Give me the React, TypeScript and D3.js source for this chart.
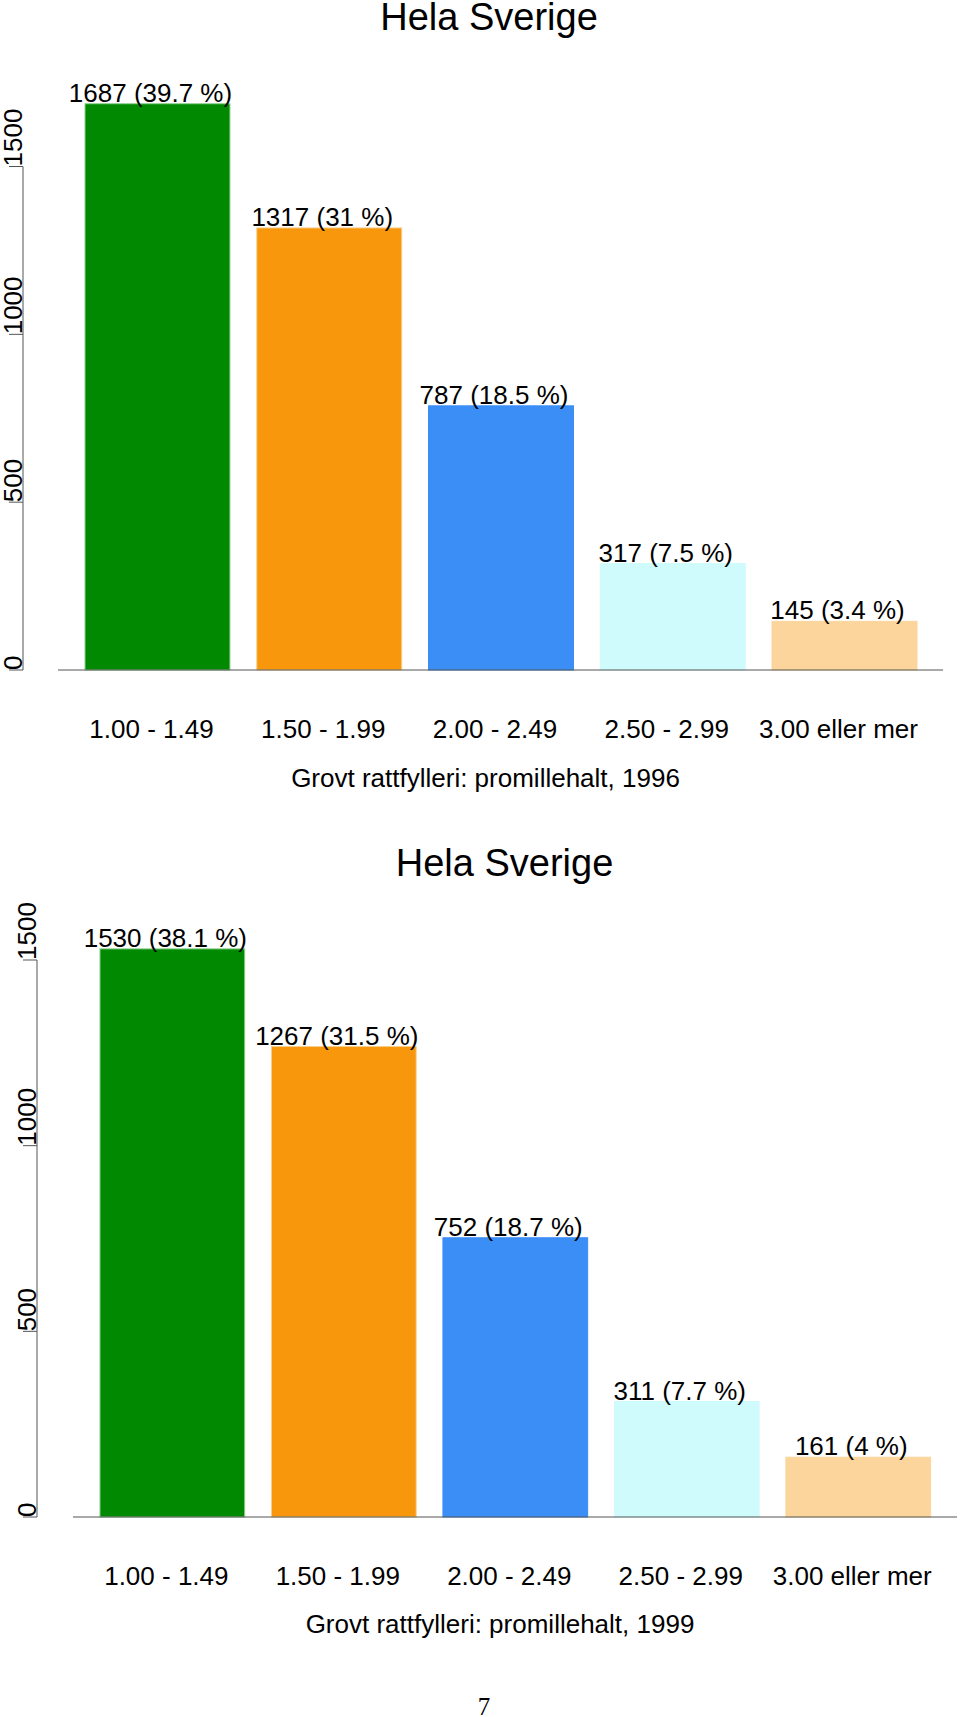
import React from "react";
import * as d3 from "d3";

const categories = ["1.00 - 1.49", "1.50 - 1.99", "2.00 - 2.49", "2.50 - 2.99", "3.00 eller mer"];
const values1996 = [1687, 1317, 787, 317, 145];
const pct1996 = ["39.7", "31", "18.5", "7.5", "3.4"];
const values1999 = [1530, 1267, 752, 311, 161];
const pct1999 = ["38.1", "31.5", "18.7", "7.7", "4"];
const yTicks = [0, 500, 1000, 1500];
const barColors = ["#018a01", "#f8970b", "#3b8ef5", "#cffbfc", "#fbd59c"];
const barEdges = ["#8fd08f", "#f6cf90", "#3b8ef5", "#cffbfc", "#fbd59c"];
const titles = ["Hela Sverige", "Hela Sverige"];
const xTitles = ["Grovt rattfylleri: promillehalt, 1996", "Grovt rattfylleri: promillehalt, 1999"];
const pageNumber = "7";

const FONT = "'Liberation Sans', Arial, sans-serif";

type PanelProps = {
  values: number[];
  pcts: string[];
  title: string;
  xTitle: string;
  layout: {
    y0: number; y1500: number; bandR0: number; bandR1: number;
    axisX: number; lineX0: number; lineX1: number;
    titleX: number; titleY: number; catY: number; xTitleX: number; xTitleY: number;
  };
};

function Panel({ values, pcts, title, xTitle, layout }: PanelProps) {
  const L = layout;
  const y = d3.scaleLinear().domain([0, 1500]).range([L.y0, L.y1500]);
  const x = d3.scaleBand<string>().domain(categories).range([L.bandR0, L.bandR1])
    .paddingInner(0.156).paddingOuter(0.078);
  const bw = x.bandwidth();
  return (
    <g>
      <text x={L.titleX} y={L.titleY} textAnchor="middle" fontFamily={FONT} fontSize={38} fill="#000">{title}</text>
      {/* y axis */}
      <line x1={L.axisX} x2={L.axisX} y1={y(0)} y2={y(1500)} stroke="#555" strokeWidth={1} />
      {yTicks.map((t) => (
        <g key={t}>
          <line x1={L.axisX - 14} x2={L.axisX} y1={y(t)} y2={y(t)} stroke="#555" strokeWidth={1} />
          <text transform={`translate(${L.axisX - 1},${y(t)}) rotate(-90)`} textAnchor="start"
            fontFamily={FONT} fontSize={26} fill="#000">{t}</text>
        </g>
      ))}
      {/* bars */}
      {categories.map((c, i) => {
        const bx = x(c)!;
        const top = y(values[i]);
        return (
          <g key={c}>
            <rect x={bx} y={top} width={bw} height={y(0) - top} fill={barColors[i]}
              stroke={barEdges[i]} strokeWidth={1} />
            <text x={bx + bw / 2 - 7} y={top - 2} textAnchor="middle" fontFamily={FONT} fontSize={26} fill="#000">
              {`${values[i]} (${pcts[i]} %)`}
            </text>
            <text x={bx + bw / 2 - 6} y={L.catY} textAnchor="middle" fontFamily={FONT} fontSize={26} fill="#000">{c}</text>
          </g>
        );
      })}
      <line x1={L.lineX0} x2={L.lineX1} y1={y(0)} y2={y(0)} stroke="#555" strokeWidth={1} />
      <text x={L.xTitleX} y={L.xTitleY} textAnchor="middle" fontFamily={FONT} fontSize={26} fill="#000">{xTitle}</text>
    </g>
  );
}

export default function App() {
  const layout1 = {
    y0: 670, y1500: 166.5, bandR0: 71.6, bandR1: 930.4,
    axisX: 23, lineX0: 58, lineX1: 943,
    titleX: 489, titleY: 30, catY: 738, xTitleX: 485.5, xTitleY: 787,
  };
  const layout2 = {
    y0: 1517, y1500: 960, bandR0: 86.6, bandR1: 944,
    axisX: 37, lineX0: 73, lineX1: 957,
    titleX: 504.5, titleY: 876, catY: 1585, xTitleX: 500, xTitleY: 1633,
  };
  return (
    <svg width={960} height={1717} style={{ position: "absolute", left: 0, top: 0, background: "#fff" }}>
      <rect x={0} y={0} width={960} height={1717} fill="#fff" />
      <Panel values={values1996} pcts={pct1996} title={titles[0]} xTitle={xTitles[0]} layout={layout1} />
      <Panel values={values1999} pcts={pct1999} title={titles[1]} xTitle={xTitles[1]} layout={layout2} />
      <text x={484} y={1715} textAnchor="middle" fontFamily="'Liberation Serif', 'Times New Roman', serif" fontSize={25} fill="#000">{pageNumber}</text>
    </svg>
  );
}
